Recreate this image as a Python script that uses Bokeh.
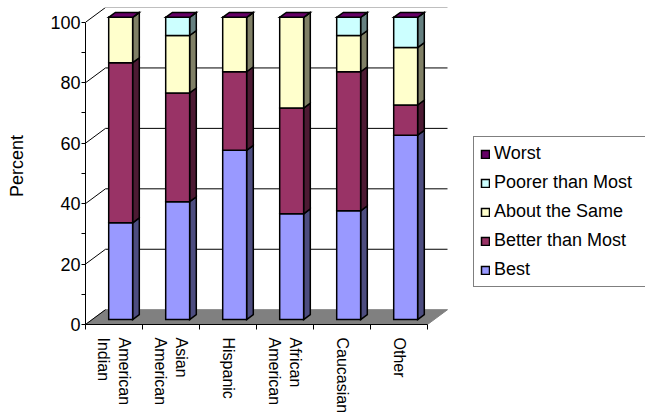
import numpy as np
from bokeh.plotting import figure
from bokeh.models import Range1d, LinearAxis, FixedTicker, Legend, LegendItem
from bokeh.embed import file_html
from bokeh.resources import INLINE

# ---------------- data ----------------
categories = ["American\nIndian", "Asian\nAmerican", "Hispanic",
              "African\nAmerican", "Caucasian", "Other"]
series_names = ["Best", "Better than Most", "About the Same",
                "Poorer than Most", "Worst"]
best = [32, 39, 56, 35, 36, 61]
better = [53, 36, 26, 35, 46, 10]
same = [15, 19, 18, 30, 12, 19]
poorer = [0, 6, 0, 0, 6, 10]
worst = [0, 0, 0, 0, 0, 0]
y_ticks = [0, 20, 40, 60, 80, 100]
y_minor = [10, 30, 50, 70, 90]

# ---------------- styles ----------------
colors = ["#9999FF", "#993366", "#FFFFCC", "#CCFFFF", "#660066"]
side_colors = ["#4D4D80", "#4D1A33", "#808066", "#668080", "#330033"]
FONT = "Liberation Sans"
W, H = 645, 416
LEFT, TOP, BOTTOM = 85, 7, 87
CAT_PX = 57.0                 # pixels per category slot
DX = 20 / CAT_PX              # depth offset (category units)
DY = 4.9                      # depth offset (value units)
BAR_OFF = 0.29
BAR_W = 0.42

values = [best, better, same, poorer, worst]
n = len(categories)
ymax = y_ticks[-1]

p = figure(width=W, height=H, output_backend="svg", toolbar_location=None,
           x_range=Range1d(0, (W - LEFT) / CAT_PX), y_range=Range1d(0, ymax + DY),
           min_border_left=LEFT, min_border_right=0, min_border_top=TOP,
           min_border_bottom=BOTTOM, x_axis_type=None, y_axis_type=None)
p.outline_line_color = None
p.xgrid.visible = False
p.ygrid.visible = False
p.background_fill_color = "white"

# floor
p.patch([0, n, n + DX, DX], [0, 0, DY, DY], fill_color="#808080",
        line_color="#808080", line_width=1)

# wall gridlines
for v in y_ticks:
    p.line([0, DX], [v, v + DY], line_color="black", line_width=1)
    if v > 0:
        p.line([DX, n + DX], [v + DY, v + DY],
               line_color="#808080" if v == ymax else "black", line_width=1)

# bars
fx, fy = DX / 3, DY / 3
dxb, dyb = DX / 3, DY / 3
side_xs, side_ys, side_fc = [], [], []
cum = np.zeros(n)
for k, vals in enumerate(values):
    vals = np.array(vals, dtype=float)
    rights = np.arange(n) + BAR_OFF + fx + BAR_W
    for i in range(n):
        b = cum[i] + fy
        t = cum[i] + vals[i] + fy
        side_xs.append([rights[i], rights[i] + dxb, rights[i] + dxb, rights[i]])
        side_ys.append([b, b + dyb, t + dyb, t])
        side_fc.append(side_colors[k])
    cum = cum + vals

p.patches(side_xs, side_ys, fill_color=side_fc, line_color="black",
          line_width=1.5, line_join="miter")

front_renderers = []
cum = np.zeros(n)
for k, vals in enumerate(values):
    vals = np.array(vals, dtype=float)
    lefts = np.arange(n) + BAR_OFF + fx
    r = p.quad(left=lefts, right=lefts + BAR_W, bottom=cum + fy,
               top=cum + vals + fy, fill_color=colors[k], line_color="black",
               line_width=1.5, line_join="miter")
    front_renderers.append(r)
    cum = cum + vals

# top faces (colour of the top-most series)
top_xs, top_ys = [], []
for i in range(n):
    l = i + BAR_OFF + fx
    rr = l + BAR_W
    t = cum[i] + fy
    top_xs.append([l, rr, rr + dxb, l + dxb])
    top_ys.append([t, t, t + dyb, t + dyb])
p.patches(top_xs, top_ys, fill_color=colors[-1], line_color="black",
          line_width=1.5, line_join="miter")

# y axis
yaxis = LinearAxis(bounds=(0, ymax),
                   ticker=FixedTicker(ticks=y_ticks, minor_ticks=y_minor),
                   axis_label="Percent")
yaxis.major_tick_out = 4
yaxis.major_tick_in = 0
yaxis.minor_tick_out = 4
yaxis.minor_tick_in = 0
yaxis.major_label_standoff = 1
yaxis.major_label_text_font = FONT
yaxis.major_label_text_font_size = "18px"
yaxis.major_label_text_color = "black"
yaxis.axis_label_text_font = FONT
yaxis.axis_label_text_font_size = "18px"
yaxis.axis_label_text_font_style = "normal"
yaxis.axis_label_text_color = "black"
yaxis.axis_label_standoff = 20
yaxis.axis_line_color = "black"
yaxis.major_tick_line_color = "black"
yaxis.minor_tick_line_color = "black"
p.add_layout(yaxis, "left")

# x axis
xaxis = LinearAxis(bounds=(0, n),
                   ticker=FixedTicker(ticks=[i + 0.5 for i in range(n)],
                                      minor_ticks=list(range(n + 1))))
xaxis.major_label_overrides = {i + 0.5: c for i, c in enumerate(categories)}
xaxis.major_tick_out = 0
xaxis.major_tick_in = 0
xaxis.minor_tick_out = 5
xaxis.minor_tick_in = 0
xaxis.major_label_orientation = "vertical"
xaxis.major_label_standoff = 8
xaxis.major_label_text_font = FONT
xaxis.major_label_text_font_size = "16px"
xaxis.major_label_text_color = "black"
xaxis.axis_line_color = "black"
xaxis.minor_tick_line_color = "black"
p.add_layout(xaxis, "below")

# legend
items = [LegendItem(label=series_names[k], renderers=[front_renderers[k]])
         for k in reversed(range(len(series_names)))]
legend = Legend(items=items, location=(388, 37))
legend.label_text_font = FONT
legend.label_text_font_size = "18px"
legend.label_text_color = "black"
legend.glyph_width = 10
legend.glyph_height = 10
legend.label_height = 21
legend.label_width = 145
legend.spacing = 8
legend.padding = 6
legend.margin = 0
legend.label_standoff = 4
legend.border_line_color = "black"
legend.border_line_width = 1
legend.background_fill_color = "white"
legend.background_fill_alpha = 1
p.add_layout(legend, "center")

open("out.html", "w").write(file_html(p, INLINE))
